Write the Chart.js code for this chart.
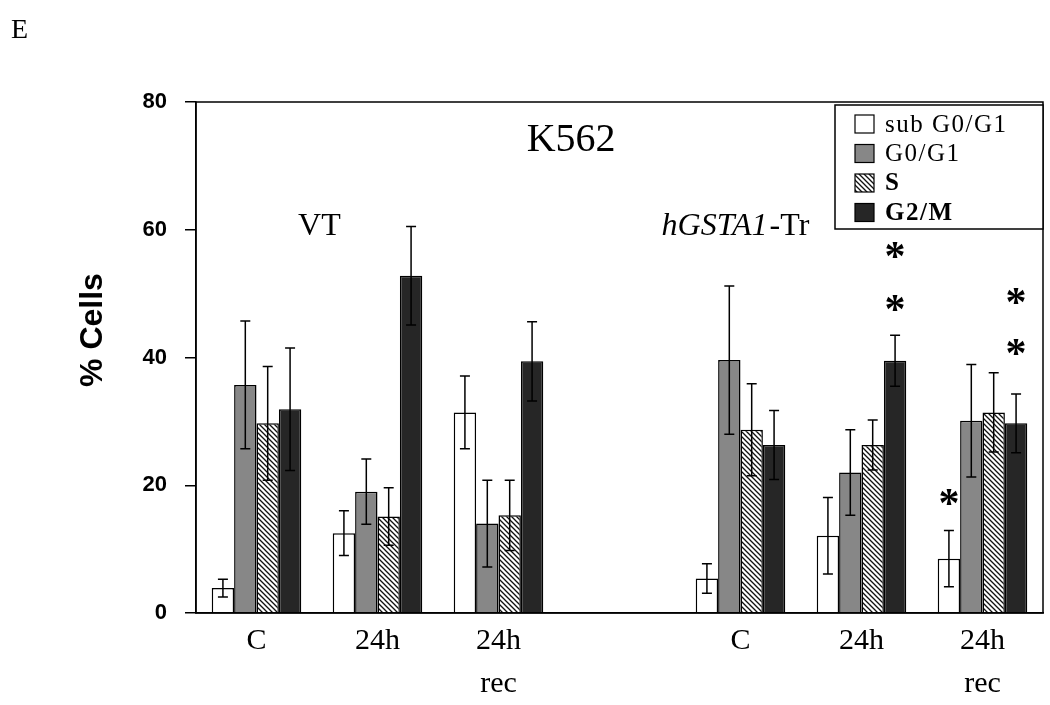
<!DOCTYPE html>
<html>
<head>
<meta charset="utf-8">
<script src="https://cdn.jsdelivr.net/npm/chart.js@4.4.0/dist/chart.umd.min.js"></script>
<style>
html, body { margin: 0; padding: 0; background: #fff; }
#wrap { width: 1050px; height: 705px; position: relative; }
</style>
</head>
<body>
<div id="wrap"><canvas id="cycle"></canvas></div>
<script>
// categories (empty slot separates VT and hGSTA1-Tr groups)
var categories = ['C', '24h', ['24h', 'rec'], '', 'C', '24h', ['24h', 'rec']];
var seriesNames = ['sub G0/G1', 'G0/G1', 'S', 'G2/M'];

var subG0G1 = [3.9, 12.5, 31.4, null, 5.4, 12.1, 8.5];
var subG0G1Err = [1.4, 3.5, 5.7, null, 2.3, 6.0, 4.4];
var g0G1 = [35.7, 19.0, 14.0, null, 39.6, 22.0, 30.1];
var g0G1Err = [10.0, 5.1, 6.8, null, 11.6, 6.7, 8.8];
var sPhase = [29.7, 15.1, 15.3, null, 28.7, 26.3, 31.4];
var sPhaseErr = [8.9, 4.5, 5.5, null, 7.2, 3.9, 6.2];
var g2M = [31.9, 52.8, 39.4, null, 26.3, 39.5, 29.7];
var g2MErr = [9.6, 7.7, 6.2, null, 5.4, 4.0, 4.6];

var yTicks = [0, 20, 40, 60, 80];

// significance stars: series index, category index, height (% cells)
var starSeries = [3, 3, 3, 3, 0];
var starCats = [5, 5, 6, 6, 6];
var starValues = [56.8, 48.5, 49.6, 41.7, 18.2];

var serif = '"Liberation Serif", "Times New Roman", serif';
var sans = '"Liberation Sans", Arial, sans-serif';

var canvas = document.getElementById('cycle');
var ctx0 = canvas.getContext('2d');

function makeHatch() {
    var c = document.createElement('canvas');
    c.width = 5; c.height = 5;
    var g = c.getContext('2d');
    g.fillStyle = '#fff';
    g.fillRect(0, 0, 5, 5);
    g.strokeStyle = '#111';
    g.lineWidth = 1.3;
    g.beginPath();
    g.moveTo(-1, -1); g.lineTo(6, 6);
    g.moveTo(-1, 4); g.lineTo(1, 6);
    g.moveTo(4, -1); g.lineTo(6, 1);
    g.stroke();
    return ctx0.createPattern(c, 'repeat');
}
var hatch = makeHatch();

var fills = ['#ffffff', '#878787', hatch, '#262626'];
var values = [subG0G1, g0G1, sPhase, g2M];
var errors = [subG0G1Err, g0G1Err, sPhaseErr, g2MErr];

var datasets = values.map(function(v, i) {
    return {
        label: seriesNames[i],
        data: v,
        backgroundColor: fills[i],
        borderColor: '#000',
        borderWidth: 1.5,
        barPercentage: 1.0,
        categoryPercentage: 0.74
    };
});

var extras = {
    id: 'extras',
    afterDatasetsDraw: function(chart) {
        var ctx = chart.ctx;
        var ys = chart.scales.y;
        ctx.save();
        ctx.strokeStyle = '#000';
        ctx.lineWidth = 1.5;
        for (var i = 0; i < values.length; i++) {
            var meta = chart.getDatasetMeta(i);
            for (var j = 0; j < values[i].length; j++) {
                if (values[i][j] == null) continue;
                var x = meta.data[j].x;
                var t = ys.getPixelForValue(values[i][j] + errors[i][j]);
                var b = ys.getPixelForValue(values[i][j] - errors[i][j]);
                ctx.beginPath();
                ctx.moveTo(x, t); ctx.lineTo(x, b);
                ctx.moveTo(x - 5, t); ctx.lineTo(x + 5, t);
                ctx.moveTo(x - 5, b); ctx.lineTo(x + 5, b);
                ctx.stroke();
            }
        }
        ctx.restore();
    },
    afterDraw: function(chart) {
        var ctx = chart.ctx;
        var a = chart.chartArea;
        var xs = chart.scales.x, ys = chart.scales.y;
        ctx.save();
        // frame
        ctx.strokeStyle = '#000';
        ctx.lineWidth = 1.5;
        ctx.strokeRect(a.left, a.top, a.right - a.left, a.bottom - a.top);

        ctx.fillStyle = '#000';
        ctx.textBaseline = 'middle';
        ctx.textAlign = 'center';

        // panel letter
        ctx.font = '28px ' + serif;
        ctx.textAlign = 'left';
        ctx.fillText('E', 11, 31);

        // y title
        ctx.save();
        ctx.translate(93, 330);
        ctx.rotate(-Math.PI / 2);
        ctx.textAlign = 'center';
        ctx.font = 'bold 32px ' + sans;
        ctx.fillText('% Cells', 0, 0);
        ctx.restore();

        // group labels
        ctx.textAlign = 'center';
        ctx.font = '40px ' + serif;
        ctx.fillText('K562', xs.getPixelForValue(2.6), ys.getPixelForValue(74));
        ctx.font = '32px ' + serif;
        ctx.fillText('VT', xs.getPixelForValue(0.52), ys.getPixelForValue(60.5));

        var it = 'hGSTA1', rg = '-Tr';
        ctx.font = 'italic 32px ' + serif;
        var w1 = ctx.measureText(it).width;
        ctx.font = '32px ' + serif;
        var w2 = ctx.measureText(rg).width;
        var cx = xs.getPixelForValue(3.95);
        var cy = ys.getPixelForValue(60.5);
        ctx.textAlign = 'left';
        ctx.font = 'italic 32px ' + serif;
        ctx.fillText(it, cx - (w1 + w2) / 2, cy);
        ctx.font = '32px ' + serif;
        ctx.fillText(rg, cx - (w1 + w2) / 2 + w1 + 2, cy);

        // stars
        ctx.textAlign = 'center';
        ctx.textBaseline = 'alphabetic';
        ctx.font = 'bold 42px ' + serif;
        var m = ctx.measureText('*');
        var off = (m.actualBoundingBoxAscent - m.actualBoundingBoxDescent) / 2;
        for (var k = 0; k < starValues.length; k++) {
            var bar = chart.getDatasetMeta(starSeries[k]).data[starCats[k]];
            ctx.fillText('*', bar.x, ys.getPixelForValue(starValues[k]) + off);
        }

        // legend inside plot, top right
        var lw = 208, lh = 124;
        var lx = a.right - lw, ly = a.top + 3;
        ctx.fillStyle = '#fff';
        ctx.fillRect(lx, ly, lw, lh);
        ctx.strokeStyle = '#000';
        ctx.lineWidth = 1.5;
        ctx.strokeRect(lx, ly, lw, lh);
        ctx.textBaseline = 'middle';
        ctx.textAlign = 'left';
        for (var s = 0; s < seriesNames.length; s++) {
            var ry = ly + 19 + s * 29.5;
            ctx.fillStyle = fills[s];
            ctx.fillRect(lx + 20, ry - 9, 19, 18);
            ctx.lineWidth = 1.2;
            ctx.strokeRect(lx + 20, ry - 9, 19, 18);
            ctx.fillStyle = '#000';
            ctx.font = (s >= 2 ? 'bold ' : '') + '25px ' + serif;
            ctx.letterSpacing = '1.5px';
            ctx.fillText(seriesNames[s], lx + 50, ry + 1);
            ctx.letterSpacing = '0px';
        }
        ctx.restore();
    }
};

new Chart(canvas, {
    type: 'bar',
    data: {
        labels: categories,
        datasets: datasets
    },
    options: {
        responsive: true,
        maintainAspectRatio: false,
        animation: false,
        devicePixelRatio: 1,
        layout: { padding: { top: 102, right: 7, left: 0, bottom: 0 } },
        plugins: {
            legend: { display: false },
            tooltip: { enabled: false }
        },
        scales: {
            x: {
                grid: { display: false, drawTicks: false },
                border: { display: true, color: '#000', width: 1.5 },
                ticks: {
                    color: '#000',
                    padding: 6,
                    maxRotation: 0,
                    autoSkip: false,
                    font: { family: serif, size: 30, lineHeight: 1.45 }
                },
                afterFit: function(s) { s.height = 92; }
            },
            y: {
                min: yTicks[0],
                max: yTicks[yTicks.length - 1],
                grid: { drawOnChartArea: false, drawTicks: true, tickLength: 11, color: '#000', lineWidth: 1.5 },
                border: { display: true, color: '#000', width: 1.5 },
                ticks: {
                    stepSize: yTicks[1] - yTicks[0],
                    color: '#000',
                    padding: 18,
                    font: { family: sans, size: 22, weight: 'bold' }
                },
                afterFit: function(s) { s.width = 196; }
            }
        }
    },
    plugins: [extras]
});
</script>
</body>
</html>
